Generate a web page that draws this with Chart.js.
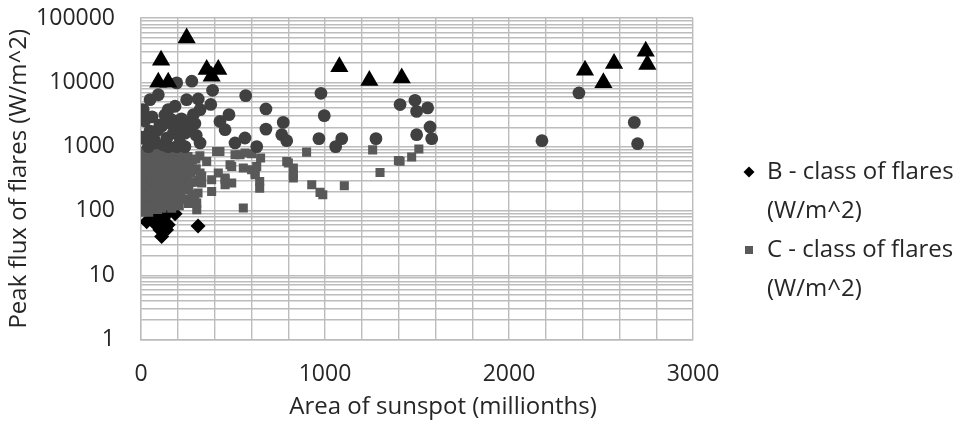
<!DOCTYPE html>
<html>
<head>
<meta charset="utf-8">
<script src="https://cdn.jsdelivr.net/npm/chart.js@4.4.0/dist/chart.umd.min.js"></script>
<style>
  html, body { margin: 0; padding: 0; background: #ffffff; }
  #wrap { width: 965px; height: 426px; position: relative; }
</style>
</head>
<body>
<div id="wrap"><canvas id="flares" width="965" height="426"></canvas></div>
<script>
// Sunspot area (millionths) vs. peak flare flux (W/m^2), one list per flare class
const bClassFlares = [
  [31, 68], [76, 77], [121, 77], [103, 51], [112, 40], [139, 51], [148, 61],
  [185, 90], [310, 58], [76, 63], [95, 88], [60, 95], [150, 96], [130, 85]
];

const cClassFlares = [
  [5, 120], [8, 180], [10, 250], [12, 400], [15, 600], [18, 850], [20, 140], [22, 300],
  [25, 500], [28, 110], [30, 200], [32, 700], [35, 350], [38, 160], [40, 450], [42, 95],
  [45, 260], [48, 800], [50, 130], [52, 380], [55, 220], [58, 600], [60, 170], [62, 310],
  [65, 900], [68, 115], [70, 450], [72, 240], [75, 650], [78, 140], [80, 330], [82, 520],
  [85, 190], [88, 780], [90, 105], [92, 280], [95, 420], [98, 160], [100, 600], [102, 230],
  [105, 350], [108, 130], [110, 880], [112, 500], [115, 200], [118, 300], [120, 700], [122, 150],
  [125, 400], [128, 260], [130, 550], [132, 120], [135, 330], [138, 800], [140, 180], [142, 460],
  [145, 230], [148, 650], [150, 140], [152, 370], [155, 290], [158, 520], [160, 170], [163, 750],
  [165, 410], [168, 240], [170, 600], [172, 130], [175, 330], [178, 480], [180, 200], [183, 880],
  [185, 270], [188, 560], [190, 150], [195, 420], [198, 700], [200, 230], [205, 330], [210, 520],
  [215, 180], [220, 800], [225, 400], [230, 270], [235, 600], [240, 150], [245, 460], [250, 340],
  [255, 700], [260, 220], [265, 500], [270, 390], [280, 620], [290, 280], [300, 450], [310, 190],
  [320, 720], [330, 350],
  [4, 95], [6, 160], [9, 330], [14, 210], [16, 480], [19, 720], [24, 125], [27, 380],
  [33, 260], [36, 560], [44, 175], [47, 650], [53, 105], [57, 300], [63, 470], [66, 200],
  [74, 360], [77, 110], [84, 280], [87, 620], [94, 220], [97, 720], [104, 175], [107, 450],
  [114, 110], [117, 380], [124, 230], [127, 640], [134, 180], [137, 420], [144, 330], [147, 120],
  [154, 220], [157, 850], [164, 300], [167, 110], [174, 560], [177, 180], [184, 390], [187, 120],
  [194, 290], [197, 160], [204, 600], [208, 120], [218, 260], [228, 340], [238, 210], [248, 560],
  [258, 130], [268, 280], [278, 180], [288, 430], [298, 640], [315, 300],
  [303, 104], [303, 132], [293, 149], [321, 388], [330, 271], [357, 588], [384, 305], [384, 200],
  [411, 842], [420, 388], [429, 842], [457, 324], [457, 255], [457, 305], [484, 522], [493, 271],
  [493, 492], [511, 748], [538, 748], [556, 464], [556, 111], [565, 795], [601, 776], [601, 437],
  [620, 365], [620, 388], [629, 492], [645, 287], [645, 226], [650, 663], [792, 588], [801, 556],
  [828, 464], [828, 324], [828, 365], [900, 820], [928, 255], [973, 194], [988, 178], [1105, 246],
  [1259, 890], [1299, 396], [1399, 610], [1408, 590], [1471, 689], [1510, 918]
];

const mClassFlares = [
  [12, 3760], [3, 1400], [49, 5370], [94, 6400], [194, 9800], [276, 10400], [148, 3760], [185, 4240],
  [248, 5370], [311, 5500], [321, 3760], [285, 3150], [293, 2280], [389, 7500], [379, 4530], [4, 1360],
  [49, 1740], [103, 2170], [167, 2620], [176, 1620], [212, 1140], [239, 1620], [321, 1140], [40, 1000],
  [121, 1060], [194, 1000], [31, 1440], [112, 2070], [203, 1530], [76, 1140], [148, 1000], [239, 1000],
  [20, 2500], [60, 2900], [90, 1800], [130, 3100], [160, 2300], [220, 2700], [260, 1900], [300, 1500],
  [70, 1300], [140, 1350], [200, 2000], [250, 2400],
  [429, 2460], [457, 1830], [478, 3140], [511, 1140], [565, 1360], [569, 6200], [629, 1000], [679, 3850],
  [679, 1870], [765, 1530], [773, 2380], [792, 1236],
  [978, 6750], [996, 3030], [967, 1330], [1058, 1000], [1091, 1330], [1277, 1330], [1408, 4500], [1489, 5250],
  [1498, 3530], [1558, 4000], [1571, 2020], [1580, 1330], [1498, 1530],
  [2179, 1236], [2380, 6840], [2681, 2380], [2699, 1110]
];

const xClassFlares = [
  [248, 49000], [109, 22000], [94, 10000], [148, 10000], [357, 15800], [420, 15800], [384, 12400],
  [1078, 17400], [1241, 10700], [1417, 11700], [2413, 15400], [2571, 19600], [2513, 9800],
  [2743, 30400], [2752, 18900]
];

const seriesNames = [
  'B - class of flares (W/m^2)',
  'C - class of flares (W/m^2)',
  'M - class of flares (W/m^2)',
  'X - class of flares (W/m^2)'
];

const xTickLabels = [0, 1000, 2000, 3000];
const yTickLabels = [1, 10, 100, 1000, 10000, 100000];
const xAxisTitle = 'Area of sunspot (millionths)';
const yAxisTitle = 'Peak flux of flares (W/m^2)';

const FONT = '"Open Sans", "DejaVu Sans", sans-serif';
const GRID = '#bcbcbc';
const TEXT = '#262626';

const toPoints = (rows) => rows.map(([x, y]) => ({ x, y }));

// grid every 200 along x, every 1..9 x 10^n along y
const xGrid = [];
for (let v = 0; v <= 3000; v += 200) xGrid.push(v);
const yGrid = [];
for (let e = 0; e < 5; e++) for (let m = 1; m <= 9; m++) yGrid.push(m * Math.pow(10, e));
yGrid.push(100000);

// side legend with wrapped entry names, only the first two series are listed
const sideLegend = {
  id: 'sideLegend',
  afterDraw(chart) {
    const ctx = chart.ctx;
    const shown = [0, 1];
    ctx.save();
    ctx.font = '24px ' + FONT;
    ctx.textBaseline = 'middle';
    ctx.textAlign = 'left';
    shown.forEach((idx, i) => {
      const ds = chart.data.datasets[idx];
      const name = ds.label;
      const cut = name.lastIndexOf(' (');
      const lines = [name.slice(0, cut), name.slice(cut + 1)];
      const y0 = 172 + i * 78;
      const mx = 749;
      ctx.fillStyle = ds.backgroundColor;
      ctx.beginPath();
      if (ds.pointStyle === 'rectRot') {
        const r = 5.5;
        ctx.moveTo(mx, y0 - r);
        ctx.lineTo(mx + r, y0);
        ctx.lineTo(mx, y0 + r);
        ctx.lineTo(mx - r, y0);
        ctx.closePath();
      } else {
        ctx.rect(mx - 4, y0 - 4, 8, 8);
      }
      ctx.fill();
      ctx.fillStyle = TEXT;
      lines.forEach((t, k) => ctx.fillText(t, 767, y0 + k * 39));
    });
    ctx.restore();
  }
};

// horizontal axis title, drawn under the tick labels
const xTitle = {
  id: 'xTitle',
  afterDraw(chart) {
    const ctx = chart.ctx;
    ctx.save();
    ctx.font = '24px ' + FONT;
    ctx.fillStyle = TEXT;
    ctx.textAlign = 'center';
    ctx.textBaseline = 'middle';
    ctx.fillText(xAxisTitle, 443, 407);
    ctx.restore();
  }
};

new Chart(document.getElementById('flares'), {
  type: 'scatter',
  data: {
    datasets: [
      { label: seriesNames[0], data: toPoints(bClassFlares), pointStyle: 'rectRot', pointRadius: 7.5,
        backgroundColor: '#000000', borderWidth: 0, order: 4 },
      { label: seriesNames[1], data: toPoints(cClassFlares), pointStyle: 'rect', pointRadius: 6.4,
        backgroundColor: '#595959', borderWidth: 0, order: 3 },
      { label: seriesNames[2], data: toPoints(mClassFlares), pointStyle: 'circle', pointRadius: 6.4,
        backgroundColor: '#404040', borderWidth: 0, order: 2 },
      { label: seriesNames[3], data: toPoints(xClassFlares), pointStyle: 'triangle', pointRadius: 10.5,
        backgroundColor: '#000000', borderWidth: 0, order: 1 }
    ]
  },
  options: {
    responsive: false,
    animation: false,
    devicePixelRatio: 1,
    events: [],
    layout: { padding: { left: 0, top: 18, right: 272, bottom: 0 } },
    elements: { point: { borderWidth: 0, hoverRadius: 0 } },
    plugins: { legend: { display: false }, tooltip: { enabled: false } },
    scales: {
      x: {
        type: 'linear',
        min: 0,
        max: 3000,
        afterBuildTicks: (s) => { s.ticks = xGrid.map(v => ({ value: v })); },
        afterFit: (s) => { s.height = 86.5; s.paddingLeft = 0; s.paddingRight = 0; },
        grid: { color: GRID, lineWidth: 1.4, drawTicks: false },
        border: { display: true, color: GRID, width: 1.4 },
        ticks: {
          autoSkip: false,
          maxRotation: 0,
          padding: 21,
          color: TEXT,
          font: { family: FONT, size: 23 },
          callback: (v) => xTickLabels.includes(v) ? String(v) : ''
        }
      },
      y: {
        type: 'logarithmic',
        min: 1,
        max: 100000,
        afterBuildTicks: (s) => { s.ticks = yGrid.map(v => ({ value: v })); },
        afterFit: (s) => { s.width = 141; s.paddingTop = 0; s.paddingBottom = 0; },
        grid: { color: GRID, lineWidth: 1.4, drawTicks: false },
        border: { display: true, color: GRID, width: 1.4 },
        title: {
          display: true,
          text: yAxisTitle,
          color: TEXT,
          font: { family: FONT, size: 24 },
          padding: { top: 5, bottom: 0 }
        },
        ticks: {
          autoSkip: false,
          padding: 26,
          color: TEXT,
          font: { family: FONT, size: 23 },
          callback: (v) => yTickLabels.includes(v) ? String(v) : ''
        }
      }
    }
  },
  plugins: [sideLegend, xTitle]
});
</script>
</body>
</html>
